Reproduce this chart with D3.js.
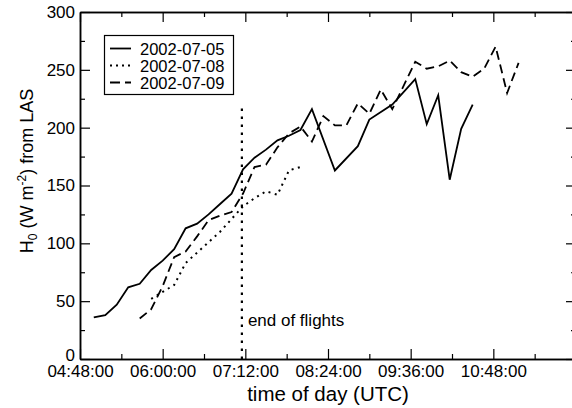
<!DOCTYPE html>
<html><head><meta charset="utf-8">
<script src="https://cdn.jsdelivr.net/npm/d3@7"></script>
<style>
body{margin:0;background:#fff}
svg text{font-family:"Liberation Sans",Arial,Helvetica,sans-serif;fill:#000}
</style>
</head><body>
<svg id="chart" width="572" height="408"></svg>
<script>
// ---- data ----
const seriesNames = ["2002-07-05", "2002-07-08", "2002-07-09"];

const times0705 = ["05:00","05:10","05:20","05:30","05:40","05:50","06:00","06:10","06:20","06:30","06:40","06:50","07:00","07:10","07:20","07:30","07:40","07:50","08:00","08:10","08:30","08:50","09:00","09:20","09:40","09:50","10:00","10:10","10:20","10:30"];
const values0705 = [36,38,47,62,65,77,85,95,113,117,125,134,143,164,174,181,189,193,198,216,163,184,207,220,242,203,228,155,199,220];

const times0708 = ["05:50","06:00","06:10","06:20","06:30","06:40","06:50","07:00","07:10","07:20","07:30","07:40","07:50","08:00"];
const values0708 = [52,58,64,83,92,101,110,121,132,139,145,142,163,166];

const times0709 = ["05:40","05:50","06:00","06:10","06:20","06:30","06:40","06:50","07:00","07:10","07:20","07:30","07:40","07:50","08:00","08:10","08:20","08:30","08:40","08:50","09:00","09:10","09:20","09:40","09:50","10:00","10:10","10:20","10:30","10:40","10:50","11:00","11:10"];
const values0709 = [35,43,63,88,93,106,120,124,127,143,166,168,183,195,201,188,210,202,202,221,212,233,216,257,251,253,258,248,244,251,270,230,256];

const xMajorTicks = ["04:48","06:00","07:12","08:24","09:36","10:48","12:00"];
const xMinorTicks = ["05:24","06:36","07:48","09:00","10:12","11:24"];
const xDomain = ["04:48","12:00"];
const yMajorTicks = [0,50,100,150,200,250,300];
const yMinorTicks = [25,75,125,175,225,275];

const markerTime = "07:09";
const markerTop = 220;
const markerLabel = "end of flights";
const xTitle = "time of day (UTC)";

// ---- helpers ----
const toMin = s => { const [h,m] = s.split(":").map(Number); return h*60+m; };
const pad2 = n => String(n).padStart(2,"0");
const fmt = m => pad2(Math.floor(m/60)) + ":" + pad2(m%60) + ":00";

const svg = d3.select("#chart");
const L = 80, R = 576, T = 12, B = 359;

const x = d3.scaleLinear().domain(xDomain.map(toMin)).range([L, R]);
const y = d3.scaleLinear().domain([0, 300]).range([B, T]);

const styleAxis = g => {
  g.selectAll("path.domain").attr("stroke","#000").attr("stroke-width",1.5);
  g.selectAll(".tick line").attr("stroke","#000").attr("stroke-width",1.2);
  g.selectAll("text").attr("font-size",17).attr("fill","#000")
   .attr("font-family",'"Liberation Sans",Arial,sans-serif');
};

const majX = xMajorTicks.map(toMin), minX = xMinorTicks.map(toMin);

// bottom axis
svg.append("g").attr("transform",`translate(0,${B})`)
  .call(d3.axisBottom(x).tickValues(majX.filter(v=>v<720)).tickFormat(fmt).tickSizeInner(-10).tickSizeOuter(0).tickPadding(6))
  .call(styleAxis);
svg.append("g").attr("transform",`translate(0,${B})`)
  .call(d3.axisBottom(x).tickValues(minX).tickFormat("").tickSizeInner(-5).tickSizeOuter(0))
  .call(styleAxis);
// top axis
svg.append("g").attr("transform",`translate(0,${T})`)
  .call(d3.axisTop(x).tickValues(majX).tickFormat("").tickSizeInner(-10).tickSizeOuter(0))
  .call(styleAxis);
svg.append("g").attr("transform",`translate(0,${T})`)
  .call(d3.axisTop(x).tickValues(minX).tickFormat("").tickSizeInner(-5).tickSizeOuter(0))
  .call(styleAxis);
// left axis
const gl = svg.append("g").attr("transform",`translate(${L},0)`)
  .call(d3.axisLeft(y).tickValues(yMajorTicks).tickFormat(d3.format("d")).tickSizeInner(-10).tickSizeOuter(0).tickPadding(5))
  .call(styleAxis);
gl.selectAll(".tick text").filter(d => d === 0).attr("dy","0.1em");
svg.append("g").attr("transform",`translate(${L},0)`)
  .call(d3.axisLeft(y).tickValues(yMinorTicks).tickFormat("").tickSizeInner(-5).tickSizeOuter(0))
  .call(styleAxis);
// right axis
svg.append("g").attr("transform",`translate(${R},0)`)
  .call(d3.axisRight(y).tickValues(yMajorTicks).tickFormat("").tickSizeInner(-10).tickSizeOuter(0))
  .call(styleAxis);
svg.append("g").attr("transform",`translate(${R},0)`)
  .call(d3.axisRight(y).tickValues(yMinorTicks).tickFormat("").tickSizeInner(-5).tickSizeOuter(0))
  .call(styleAxis);

// ---- series ----
const line = d3.line().x(d => x(d.t)).y(d => y(d.v));
const mk = (ts, vs) => ts.map((t,i) => ({t: toMin(t), v: vs[i]}));
const styles = [
  {dash: null, legendDash: null, w: 1.8},
  {dash: "2,4.5", legendDash: "2,4", w: 2},
  {dash: "9,5", legendDash: "10,5", w: 1.8}
];
const data = [mk(times0705, values0705), mk(times0708, values0708), mk(times0709, values0709)];

data.forEach((d,i) => {
  svg.append("path").datum(d).attr("d", line)
    .attr("fill","none").attr("stroke","#000")
    .attr("stroke-width", styles[i].w)
    .attr("stroke-dasharray", styles[i].dash)
    .attr("stroke-linejoin","miter");
});

// marker line
svg.append("line")
  .attr("x1", x(toMin(markerTime))).attr("x2", x(toMin(markerTime)))
  .attr("y1", y(0)).attr("y2", y(markerTop))
  .attr("stroke","#000").attr("stroke-width",2.2).attr("stroke-dasharray","2.5,5.5");
svg.append("text").attr("x", x(toMin(markerTime)) + 6).attr("y", 326)
  .attr("font-size",17).text(markerLabel);

// ---- legend ----
const lg = svg.append("g");
lg.append("rect").attr("x",104.5).attr("y",35.5).attr("width",129).attr("height",59)
  .attr("fill","#fff").attr("stroke","#000").attr("stroke-width",1.2);
seriesNames.forEach((n,i) => {
  const yy = 48.5 + i*17;
  lg.append("line").attr("x1",110).attr("x2",131).attr("y1",yy).attr("y2",yy)
    .attr("stroke","#000").attr("stroke-width",styles[i].w)
    .attr("stroke-dasharray", styles[i].legendDash);
  lg.append("text").attr("x",140).attr("y",yy+6).attr("font-size",16.5).text(n);
});

// ---- titles ----
svg.append("text").attr("x", 328).attr("y", 401).attr("text-anchor","middle")
  .attr("font-size",20.5).text(xTitle);

const yt = svg.append("text").attr("transform","translate(33,171) rotate(-90)")
  .attr("text-anchor","middle").attr("font-size",18);
yt.append("tspan").text("H");
yt.append("tspan").attr("font-size",12).attr("dy",4).text("0");
yt.append("tspan").attr("dy",-4).text(" (W m");
yt.append("tspan").attr("font-size",12).attr("dy",-7).text("-2");
yt.append("tspan").attr("dy",7).text(") from LAS");
</script>
</body></html>
